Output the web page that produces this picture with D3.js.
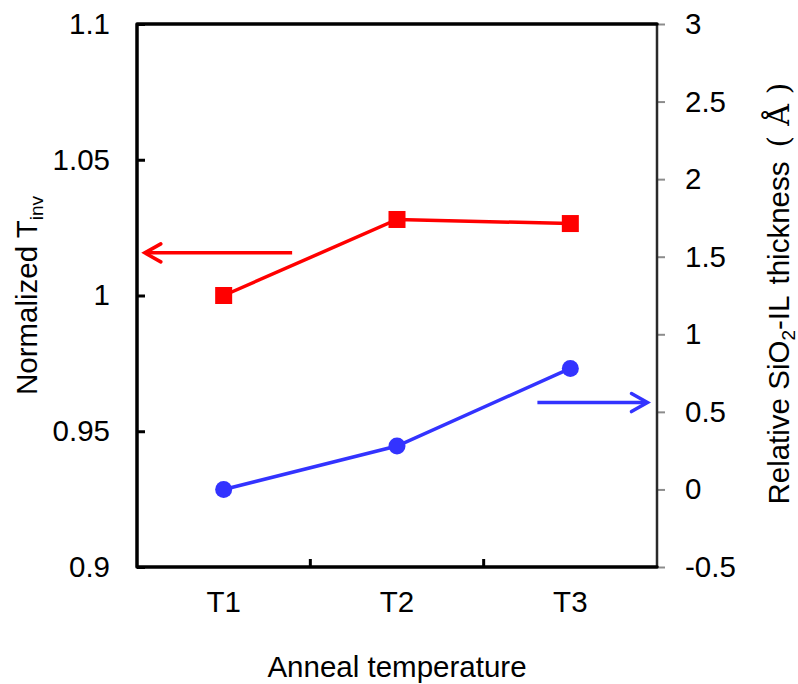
<!DOCTYPE html>
<html>
<head>
<meta charset="utf-8">
<script src="https://cdn.jsdelivr.net/npm/d3@7"></script>
<style>
  html, body { margin: 0; padding: 0; background: #fff; }
  svg { display: block; font-family: "Liberation Sans", Arial, sans-serif; }
</style>
</head>
<body>
<svg id="chart" width="798" height="684"></svg>
<script>
// Anneal temperature categories
const categories = ["T1", "T2", "T3"];
// Normalized Tinv (left axis)
const tinvValues = [1.000, 1.028, 1.0265];
// Relative SiO2-IL thickness in Å (right axis)
const ilValues = [0.0, 0.28, 0.78];
// Axis tick values
const leftTicks = [0.9, 0.95, 1.0, 1.05, 1.1];
const rightTicks = [-0.5, 0, 0.5, 1, 1.5, 2, 2.5, 3];
// Pointer arrows showing which axis each series belongs to (position in category units, value units)
const redArrow = { from: 0.895, to: 0.045, value: 1.0157 };
const blueArrow = { from: 2.31, to: 2.945, value: 0.56 };

const FS = 29.5;
const svg = d3.select("#chart");
const margin = { left: 137, right: 141, top: 24, bottom: 117 };
const W = 798, H = 684;
const x0 = margin.left, x1 = W - margin.right;
const y0 = margin.top, y1 = H - margin.bottom;

const x = d3.scaleBand().domain(categories).range([x0, x1]).padding(0);
const xc = d => x(d) + x.bandwidth() / 2;
const xu = d3.scaleLinear().domain([0, categories.length]).range([x0, x1]);
const yL = d3.scaleLinear().domain([0.9, 1.1]).range([y1, y0]);
const yR = d3.scaleLinear().domain([-0.5, 3]).range([y1, y0]);

// plain number labels with an ASCII hyphen for negatives
const fmt = d => String(+d.toFixed(2));

// Left axis with inward ticks
const gL = svg.append("g").attr("transform", `translate(${x0},0)`)
  .call(d3.axisLeft(yL).tickValues(leftTicks).tickSize(-8).tickPadding(27).tickFormat(fmt));
gL.select(".domain").remove();
gL.selectAll(".tick line").attr("stroke", "#000").attr("stroke-width", 3);
gL.selectAll("text").attr("font-size", FS).attr("fill", "#000")
  .attr("font-family", "Liberation Sans, Arial, sans-serif");

// Right axis with outward grey ticks
const gR = svg.append("g").attr("transform", `translate(${x1},0)`)
  .call(d3.axisRight(yR).tickValues(rightTicks).tickSize(8).tickPadding(20).tickFormat(fmt));
gR.select(".domain").remove();
gR.selectAll(".tick line").attr("stroke", "#8c8c8c").attr("stroke-width", 2);
gR.selectAll("text").attr("font-size", FS).attr("fill", "#000")
  .attr("font-family", "Liberation Sans, Arial, sans-serif");

// Bottom axis: category labels, ticks between categories
const gB = svg.append("g").attr("transform", `translate(0,${y1})`)
  .call(d3.axisBottom(x).tickSize(0).tickPadding(24));
gB.select(".domain").remove();
gB.selectAll("text").attr("font-size", FS).attr("fill", "#000")
  .attr("font-family", "Liberation Sans, Arial, sans-serif");
svg.append("g").selectAll("line")
  .data(categories.slice(1))
  .join("line")
  .attr("x1", d => x(d)).attr("x2", d => x(d))
  .attr("y1", y1).attr("y2", y1 - 8)
  .attr("stroke", "#000").attr("stroke-width", 3);

// Plot frame
svg.append("line").attr("x1", x1).attr("x2", x1).attr("y1", y0).attr("y2", y1)
  .attr("stroke", "#2a2a2a").attr("stroke-width", 2.5);
svg.append("path")
  .attr("d", `M${x1},${y0}H${x0}V${y1}H${x1}`)
  .attr("fill", "none").attr("stroke", "#000").attr("stroke-width", 3.5)
  .attr("stroke-linejoin", "round").attr("stroke-linecap", "round");

// Tinv series (red squares)
const lineL = d3.line().x((d, i) => xc(categories[i])).y(d => yL(d));
svg.append("path").datum(tinvValues).attr("d", lineL)
  .attr("fill", "none").attr("stroke", "#ff0000").attr("stroke-width", 3.5);
const sq = 17;
svg.append("g").selectAll("rect").data(tinvValues).join("rect")
  .attr("x", (d, i) => xc(categories[i]) - sq / 2)
  .attr("y", d => yL(d) - sq / 2)
  .attr("width", sq).attr("height", sq).attr("fill", "#ff0000");

// IL thickness series (blue circles)
const lineR = d3.line().x((d, i) => xc(categories[i])).y(d => yR(d));
svg.append("path").datum(ilValues).attr("d", lineR)
  .attr("fill", "none").attr("stroke", "#3333ff").attr("stroke-width", 3.5);
svg.append("g").selectAll("circle").data(ilValues).join("circle")
  .attr("cx", (d, i) => xc(categories[i]))
  .attr("cy", d => yR(d))
  .attr("r", 8.5).attr("fill", "#3333ff");

// Axis pointer arrows
function arrow(a, yScale, color) {
  const xs = xu(a.from), xe = xu(a.to), yy = yScale(a.value);
  const dir = xe > xs ? 1 : -1;
  svg.append("line").attr("x1", xs).attr("x2", xe - dir * 1).attr("y1", yy).attr("y2", yy)
    .attr("stroke", color).attr("stroke-width", 3.5);
  svg.append("path")
    .attr("d", `M${xe - dir * 16},${yy - 9}L${xe},${yy}L${xe - dir * 16},${yy + 9}`)
    .attr("fill", "none").attr("stroke", color).attr("stroke-width", 3.5)
    .attr("stroke-linecap", "round").attr("stroke-linejoin", "miter");
}
arrow(redArrow, yL, "#ff0000");
arrow(blueArrow, yR, "#3333ff");

// Axis titles
const yMid = (y0 + y1) / 2;
const tl = svg.append("text")
  .attr("transform", `translate(37,${yMid}) rotate(-90)`)
  .attr("text-anchor", "middle").attr("font-size", FS).attr("fill", "#000");
tl.append("tspan").text("Normalized T");
tl.append("tspan").attr("font-size", 19).attr("dy", 6).text("inv");

const tr = svg.append("text")
  .attr("transform", `translate(789,${yMid - 2}) rotate(-90)`)
  .attr("text-anchor", "middle").attr("font-size", FS).attr("fill", "#000");
tr.append("tspan").text("Relative SiO");
tr.append("tspan").attr("font-size", 19).attr("dy", 6).text("2");
tr.append("tspan").attr("dy", -6).attr("word-spacing", 4).text("-IL thickness");
const unitFont = "DejaVu Serif, serif";
tr.append("tspan").attr("dx", 14).attr("font-family", unitFont).attr("font-size", 30).text("(");
tr.append("tspan").attr("dx", 10).attr("font-family", unitFont).attr("font-size", 30).text("Å");
tr.append("tspan").attr("dx", 10).attr("font-family", unitFont).attr("font-size", 30).text(")");

svg.append("text")
  .attr("x", (x0 + x1) / 2).attr("y", 677)
  .attr("text-anchor", "middle").attr("font-size", FS).attr("fill", "#000")
  .text("Anneal temperature");
</script>
</body>
</html>
